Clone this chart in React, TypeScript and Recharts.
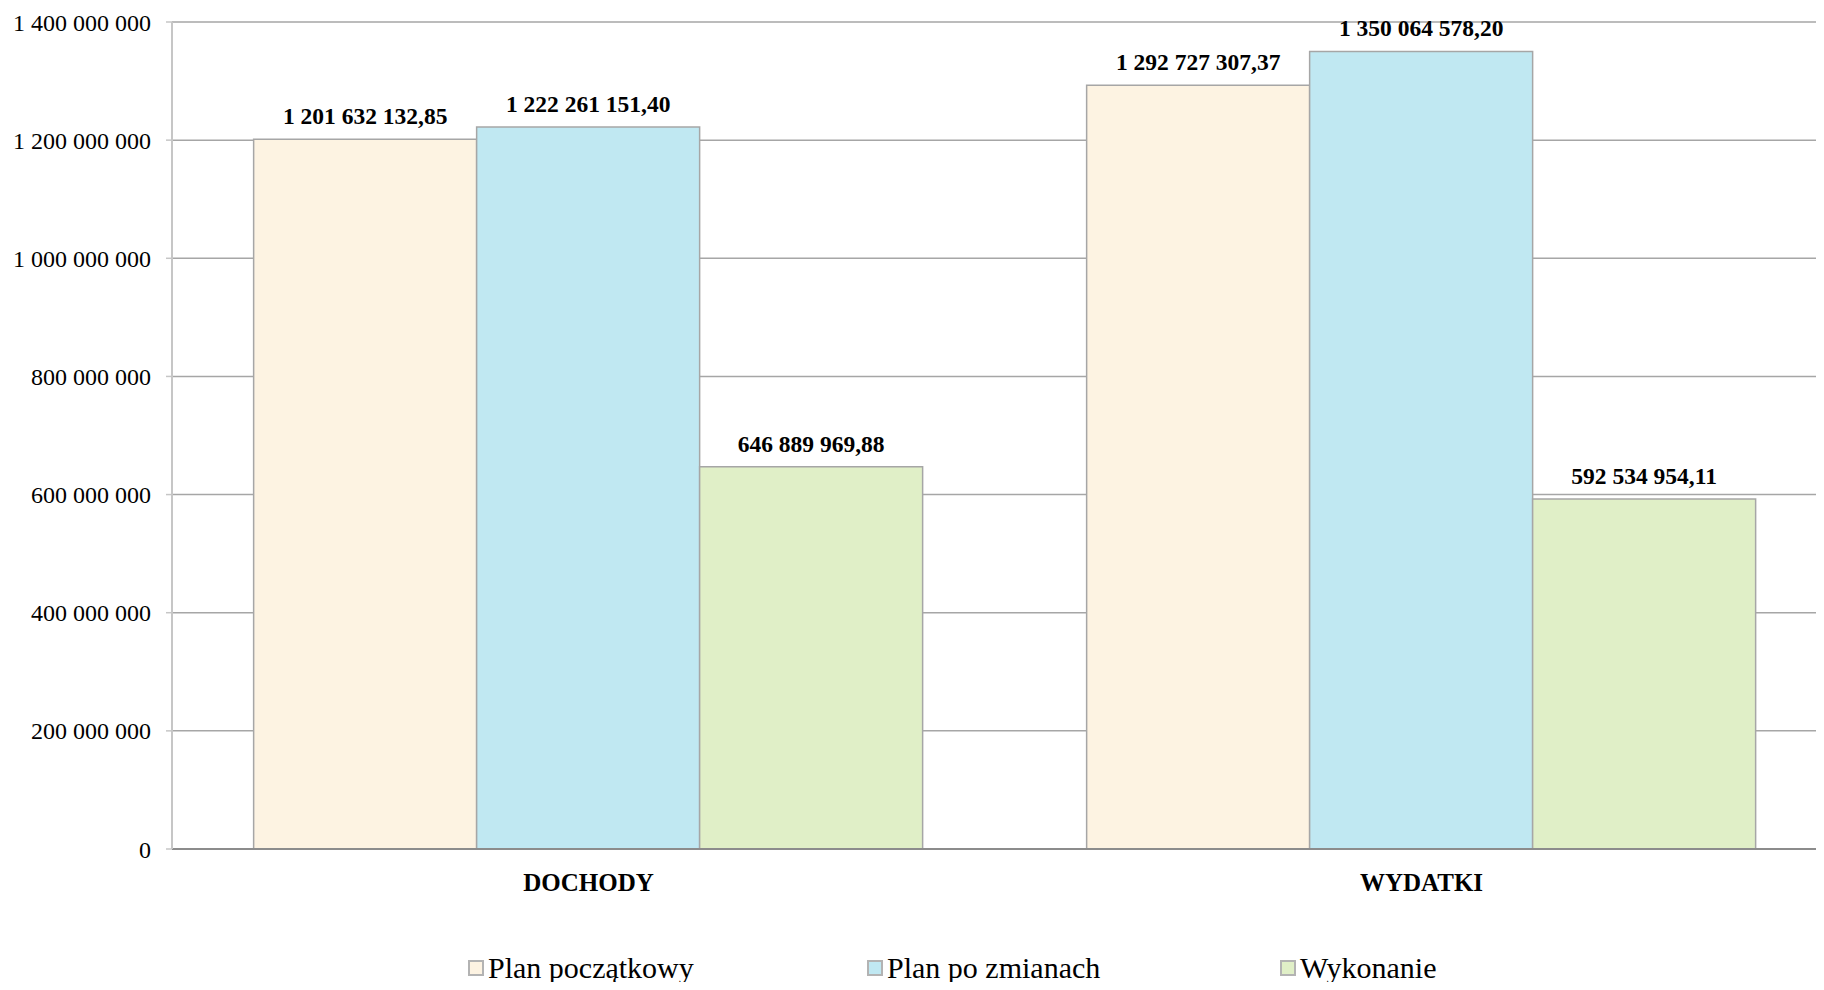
import { Bar, BarChart, CartesianGrid, LabelList, Legend, XAxis, YAxis } from 'recharts';

const categories = ['DOCHODY', 'WYDATKI'];
const planPoczatkowy = [1201632132.85, 1292727307.37];
const planPoZmianach = [1222261151.4, 1350064578.2];
const wykonanie = [646889969.88, 592534954.11];
const yTicks = [0, 200000000, 400000000, 600000000, 800000000, 1000000000, 1200000000, 1400000000];

const SERIES = [
  { key: 'plan', name: 'Plan początkowy', color: '#FDF3E2' },
  { key: 'zmiany', name: 'Plan po zmianach', color: '#C0E8F2' },
  { key: 'wyk', name: 'Wykonanie', color: '#E0EFC7' },
];

const data = categories.map((c, i) => ({
  name: c,
  plan: planPoczatkowy[i],
  zmiany: planPoZmianach[i],
  wyk: wykonanie[i],
}));

const FONT = '"Liberation Serif", "Times New Roman", serif';

const groupThousands = (s: string) => s.replace(/\B(?=(\d{3})+(?!\d))/g, ' ');
const fmtTick = (v: number) => groupThousands(String(Math.round(v)));
const fmtValue = (v: number) => {
  const [i, d] = v.toFixed(2).split('.');
  return groupThousands(i) + ',' + d;
};

const LEGEND_X = [468, 867, 1280];

function LegendContent() {
  return (
    <div style={{ position: 'relative', width: 1840, height: 60, fontFamily: FONT, fontSize: 30 }}>
      {SERIES.map((s, i) => (
        <div
          key={s.key}
          style={{ position: 'absolute', left: LEGEND_X[i], top: 20, height: 36, display: 'flex', alignItems: 'center', whiteSpace: 'nowrap', lineHeight: '36px' }}
        >
          <span
            style={{ display: 'inline-block', width: 12, height: 12, background: s.color, border: '2px solid #b3b3b3', marginRight: 4 }}
          />
          <span>{s.name}</span>
        </div>
      ))}
    </div>
  );
}

export default function App() {
  return (
    <div style={{ margin: -8, width: 1824, height: 990, overflow: 'hidden', background: '#fff' }}>
      <BarChart
        width={1840}
        height={990}
        data={data}
        margin={{ top: 22, right: 2, bottom: 0, left: 0 }}
        barCategoryGap="9.8%"
        barGap={0}
      >
        <CartesianGrid vertical={false} stroke="#a6a6a6" strokeWidth={1.5} />
        <XAxis
          dataKey="name"
          height={81}
          tickLine={false}
          tickSize={6}
          tickMargin={18}
          axisLine={{ stroke: '#8c8c8c', strokeWidth: 2 }}
          tick={{ fill: '#000', fontFamily: FONT, fontSize: 25, fontWeight: 'bold' }}
        />
        <YAxis
          width={172}
          domain={[0, 1400000000]}
          ticks={yTicks}
          interval={0}
          tickFormatter={fmtTick}
          tickSize={6}
          tickMargin={15}
          axisLine={{ stroke: '#c6c6c6', strokeWidth: 2 }}
          tickLine={{ stroke: '#c6c6c6', strokeWidth: 1.5 }}
          tick={{ fill: '#000', fontFamily: FONT, fontSize: 24 }}
        />
        <Legend
          verticalAlign="bottom"
          content={<LegendContent />}
          wrapperStyle={{ left: 0, width: 1840, height: 60 }}
        />
        {SERIES.map((s) => (
          <Bar key={s.key} dataKey={s.key} name={s.name} fill={s.color} stroke="#a6a6a6" strokeWidth={1.5} isAnimationActive={false}>
            <LabelList
              dataKey={s.key}
              position="top"
              offset={15}
              formatter={(v: any) => fmtValue(Number(v))}
              style={{ fill: '#000', fontFamily: FONT, fontSize: 23.5, fontWeight: 'bold' }}
            />
          </Bar>
        ))}
      </BarChart>
    </div>
  );
}
